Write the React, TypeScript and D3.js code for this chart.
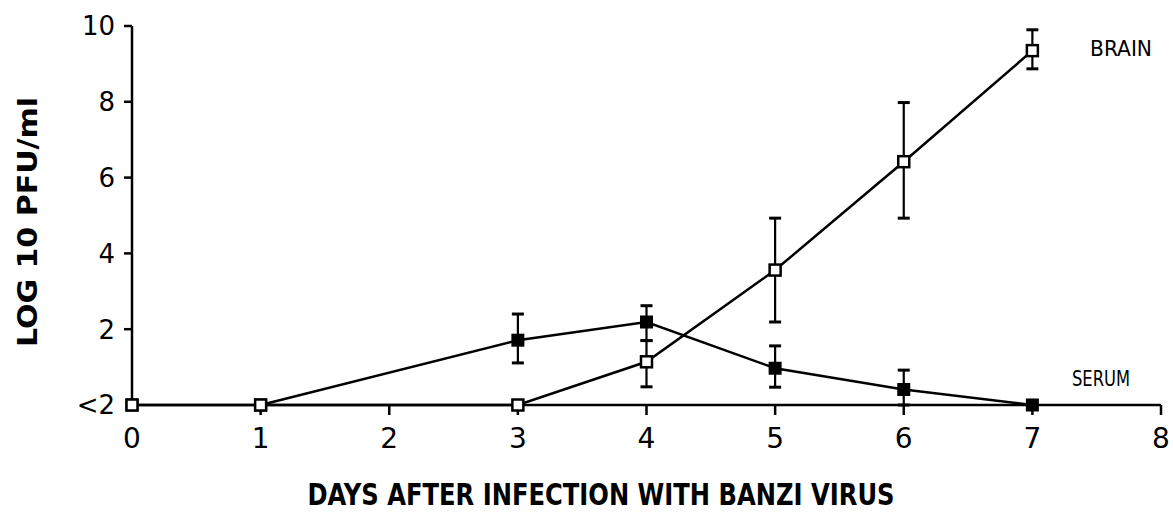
import React from "react";
import * as d3 from "d3";

const days = [0, 1, 3, 4, 5, 6, 7];
const brainValues = [0, 0, 0, 1.14, 3.56, 6.42, 9.35];
const brainLow = [null, null, null, 0.48, 2.19, 4.93, 8.87];
const brainHigh = [null, null, null, 1.7, 4.93, 7.98, 9.9];
const serumValues = [0, 0, 1.71, 2.19, 0.97, 0.41, 0];
const serumLow = [null, null, 1.11, 1.7, 0.47, 0.0, null];
const serumHigh = [null, null, 2.4, 2.62, 1.56, 0.92, null];
const xTicks = [0, 1, 2, 3, 4, 5, 6, 7, 8];
const yTicks = [0, 2, 4, 6, 8, 10];
const yTickLabels = ["<2", "2", "4", "6", "8", "10"];

const W = 1173;
const H = 518;

export default function App() {
  const x = d3.scaleLinear().domain([0, 8]).range([132, 1161]);
  const y = d3.scaleLinear().domain([0, 10]).range([405, 26]);
  const line = d3
    .line<number>()
    .x((_, i) => x(days[i]))
    .y((v) => y(v));

  const tickFont = "'DejaVu Sans', sans-serif";
  const sw = 2.5;

  const errBars = (lo: (number | null)[], hi: (number | null)[], key: string) =>
    days.map((d, i) => {
      const l = lo[i];
      const h = hi[i];
      if (l == null || h == null) return null;
      return (
        <g key={key + i} stroke="#000" strokeWidth={2.2}>
          <line x1={x(d)} x2={x(d)} y1={y(l)} y2={y(h)} />
          <line x1={x(d) - 6} x2={x(d) + 6} y1={y(h)} y2={y(h)} strokeWidth={3} />
          <line x1={x(d) - 6} x2={x(d) + 6} y1={y(l)} y2={y(l)} strokeWidth={3} />
        </g>
      );
    });

  return (
    <svg width={W} height={H} style={{ position: "absolute", left: 0, top: 0, background: "#fff" }}>
      <rect x={0} y={0} width={W} height={H} fill="#fff" />
      {/* axes */}
      <g stroke="#000" strokeWidth={sw} fill="none">
        <line x1={x(0)} x2={x(0)} y1={y(10)} y2={y(0)} />
        <line x1={x(0)} x2={x(8)} y1={y(0)} y2={y(0)} />
        {yTicks.map((t) =>
          t === 0 ? null : <line key={"yt" + t} x1={x(0) - 8} x2={x(0)} y1={y(t)} y2={y(t)} />
        )}
        {xTicks.map((t) =>
          t === 0 ? null : <line key={"xt" + t} x1={x(t)} x2={x(t)} y1={y(0)} y2={y(0) + 10} />
        )}
      </g>
      {/* tick labels */}
      {yTicks.map((t, i) => (
        <text
          key={"yl" + t}
          x={x(0) - 17}
          y={y(t)}
          dy="0.36em"
          textAnchor="end"
          fontFamily={tickFont}
          fontSize={26}
          fill="#000"
        >
          {yTickLabels[i]}
        </text>
      ))}
      {xTicks.map((t) => (
        <text
          key={"xl" + t}
          x={x(t)}
          y={y(0) + 33}
          dy="0.36em"
          textAnchor="middle"
          fontFamily={tickFont}
          fontSize={28}
          fill="#000"
        >
          {t}
        </text>
      ))}
      {/* axis titles */}
      <text
        x={601}
        y={494}
        dy="0.36em"
        textAnchor="middle"
        fontFamily="'DejaVu Sans Condensed', 'DejaVu Sans', sans-serif"
        fontWeight="bold"
        fontSize={30}
        textLength={587}
        lengthAdjust="spacingAndGlyphs"
        fill="#000"
      >
        DAYS AFTER INFECTION WITH BANZI VIRUS
      </text>
      <text
        transform="translate(27,222) rotate(-90)"
        textAnchor="middle"
        dy="0.36em"
        fontFamily="'DejaVu Sans Condensed', 'DejaVu Sans', sans-serif"
        fontWeight="bold"
        fontSize={27}
        textLength={250}
        lengthAdjust="spacingAndGlyphs"
        fill="#000"
      >
        LOG 10 PFU/ml
      </text>
      {/* series labels */}
      <text
        x={1090}
        y={48}
        dy="0.36em"
        fontFamily="'DejaVu Sans Condensed', 'DejaVu Sans', sans-serif"
        fontSize={22}
        textLength={62}
        lengthAdjust="spacingAndGlyphs"
        fill="#000"
      >
        BRAIN
      </text>
      <text
        x={1072}
        y={378}
        dy="0.36em"
        fontFamily="'DejaVu Sans Condensed', 'DejaVu Sans', sans-serif"
        fontSize={22}
        textLength={58}
        lengthAdjust="spacingAndGlyphs"
        fill="#000"
      >
        SERUM
      </text>
      {/* serum */}
      <path d={line(serumValues.slice(1).map((v) => v)) ? (line.x((_, i) => x(days[i + 1]))(serumValues.slice(1)) as string) : ""} fill="none" stroke="#000" strokeWidth={sw} />
      {errBars(serumLow, serumHigh, "se")}
      {days.map((d, i) => (
        <rect
          key={"sm" + i}
          x={x(d) - 6.5}
          y={y(serumValues[i]) - 6.5}
          width={13}
          height={13}
          fill="#000"
        />
      ))}
      {/* brain */}
      <path
        d={line.x((_, i) => x(days[i]))(brainValues) as string}
        fill="none"
        stroke="#000"
        strokeWidth={sw}
      />
      {errBars(brainLow, brainHigh, "be")}
      {days.map((d, i) => (
        <rect
          key={"bm" + i}
          x={x(d) - 5.5}
          y={y(brainValues[i]) - 5.5}
          width={11}
          height={11}
          fill="#fff"
          stroke="#000"
          strokeWidth={2.5}
        />
      ))}
    </svg>
  );
}
